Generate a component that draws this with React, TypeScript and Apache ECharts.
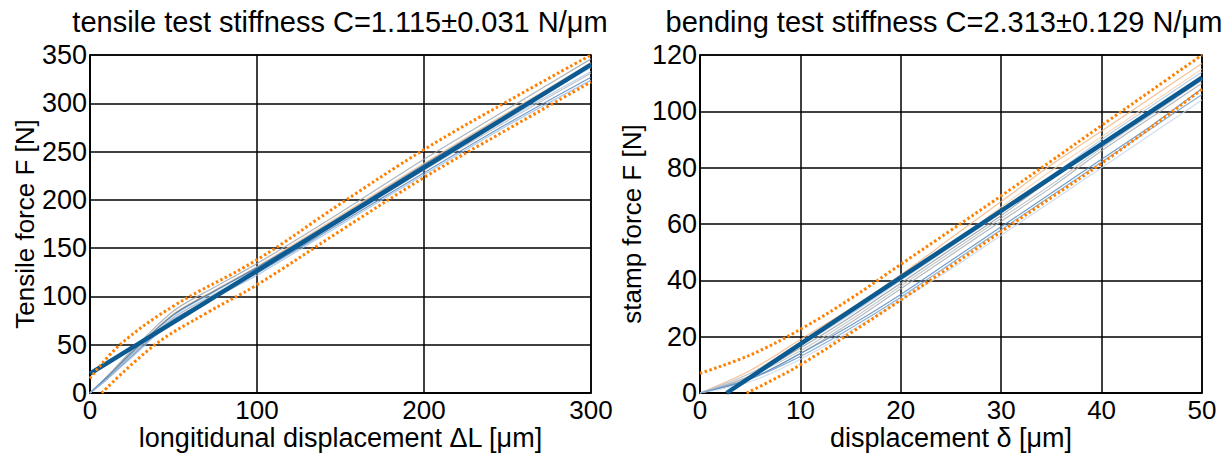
import React, { useEffect, useRef } from "react";
import * as echarts from "echarts";

// ---------- Tensile test (left) ----------
const tensileX = [0, 10, 25, 50, 75, 100, 150, 200, 250, 300];
const tensileCurves: number[][] = [
  [0, 16, 42, 81, 106, 130, 183, 237, 290, 340],
  [0, 15, 40, 78, 103, 127, 179, 232, 284, 333],
  [0, 17, 44, 85, 110, 134, 187, 242, 294, 346],
  [0, 16, 42, 82, 107, 131, 184, 238, 290, 342],
  [0, 14, 38, 76, 100, 124, 176, 228, 279, 327],
  [0, 16, 41, 80, 105, 129, 181, 235, 287, 337],
  [0, 15, 40, 78, 102, 126, 178, 231, 282, 331],
  [0, 16, 42, 81, 106, 130, 182, 236, 288, 339],
  [0, 14, 37, 75, 99, 122, 174, 226, 277, 324],
];
const tensileCurveColors = ["#8a96a3", "#a9c6e4", "#9aa3ab", "#f3c39a", "#4f86bb", "#bcd3ea", "#b0b8bf", "#3f79b0", "#9dbbe0"];
const tensileMeanX = [0, 300];
const tensileMeanY = [20, 340];
const tensileUpperX = [0, 18, 50, 100, 150, 200, 250, 300];
const tensileUpperY = [15, 50, 90, 138, 196, 252, 302, 350];
const tensileLowerX = [7, 39, 70, 100, 150, 200, 250, 300];
const tensileLowerY = [0, 50, 83, 112, 168, 223, 273, 322];

// ---------- Bending test (right) ----------
const bendX = [0, 5, 10, 15, 20, 25, 30, 35, 40, 45, 50];
const bendCurves: number[][] = [
  [0, 8, 19, 30, 42, 55, 68, 81, 93, 105, 117],
  [0, 7, 18, 29, 41, 53, 66, 79, 91, 103, 115],
  [0, 6, 16, 27, 39, 51, 63, 76, 88, 100, 112],
  [0, 5, 14, 25, 37, 49, 61, 73, 86, 98, 110],
  [0, 5, 14, 24, 35, 47, 59, 71, 83, 95, 108],
  [0, 4, 12, 22, 33, 44, 56, 68, 80, 92, 104],
  [0, 6, 15, 26, 38, 50, 62, 74, 87, 99, 111],
  [0, 7, 17, 28, 40, 52, 64, 77, 90, 102, 114],
  [0, 5, 13, 23, 34, 46, 58, 70, 82, 94, 106],
];
const bendCurveColors = ["#f2b27a", "#f7cfa8", "#8f969d", "#a3a9ae", "#4f86bb", "#c3d6ec", "#b7bdc2", "#a9c6e4", "#6f9ccb"];
const bendMeanX = [2.65, 50];
const bendMeanY = [0, 112];
const bendUpperX = [0, 5, 10, 15, 20, 25, 30, 35, 40, 45, 50];
const bendUpperY = [7, 13.5, 22.6, 33.5, 45.7, 57.8, 70, 82.4, 95, 107.5, 120];
const bendLowerX = [4.65, 7, 10, 15, 20, 25, 30, 35, 40, 45, 50];
const bendLowerY = [0, 4.2, 10, 21.3, 33, 45, 57.3, 69.4, 81.5, 94.5, 107.8];

const tensileXTicks = { min: 0, max: 300, interval: 100 };
const tensileYTicks = { min: 0, max: 350, interval: 50 };
const bendXTicks = { min: 0, max: 50, interval: 10 };
const bendYTicks = { min: 0, max: 120, interval: 20 };

const FONT = "'Liberation Sans', Arial, sans-serif";

const pairs = (xs: number[], ys: number[]) => xs.map((x, i) => [x, ys[i]]);

export default function App() {
  const ref = useRef<HTMLDivElement>(null);
  useEffect(() => {
    if (!ref.current) return;
    const chart = echarts.init(ref.current, undefined, { renderer: "svg" });

    const axisCommon = {
      type: "value" as const,
      axisLine: { show: true, lineStyle: { color: "#000", width: 1.5 } },
      axisTick: { show: false },
      splitLine: { show: true, lineStyle: { color: "#000", width: 1.5 } },
      nameLocation: "middle" as const,
      nameMoveOverlap: false,
    };
    const xLabel = { color: "#000", fontSize: 26, fontFamily: FONT, margin: 4 };
    const yLabel = { color: "#000", fontSize: 27, fontFamily: FONT, margin: 3 };
    const xName = { color: "#000", fontSize: 27, fontFamily: FONT };
    const yName = { color: "#000", fontSize: 26, fontFamily: FONT };

    const series: any[] = [];
    tensileCurves.forEach((c, i) => {
      series.push({
        type: "line", xAxisIndex: 0, yAxisIndex: 0, showSymbol: false, silent: true,
        data: pairs(tensileX, c), smooth: 0.3,
        lineStyle: { color: tensileCurveColors[i], width: 1.2, opacity: 0.8 },
      });
    });
    series.push({
      type: "line", xAxisIndex: 0, yAxisIndex: 0, showSymbol: false,
      data: pairs(tensileMeanX, tensileMeanY),
      lineStyle: { color: "#0b5a92", width: 4.5 },
    });
    series.push({
      type: "line", xAxisIndex: 0, yAxisIndex: 0, showSymbol: false, smooth: 0.4,
      data: pairs(tensileUpperX, tensileUpperY),
      lineStyle: { color: "#ff8000", width: 3, type: [2.5, 2.5] },
    });
    series.push({
      type: "line", xAxisIndex: 0, yAxisIndex: 0, showSymbol: false, smooth: 0.4,
      data: pairs(tensileLowerX, tensileLowerY),
      lineStyle: { color: "#ff8000", width: 3, type: [2.5, 2.5] },
    });

    bendCurves.forEach((c, i) => {
      series.push({
        type: "line", xAxisIndex: 1, yAxisIndex: 1, showSymbol: false, silent: true,
        data: pairs(bendX, c), smooth: 0.3,
        lineStyle: { color: bendCurveColors[i], width: 1.2, opacity: 0.8 },
      });
    });
    series.push({
      type: "line", xAxisIndex: 1, yAxisIndex: 1, showSymbol: false,
      data: pairs(bendMeanX, bendMeanY),
      lineStyle: { color: "#0b5a92", width: 4.5 },
    });
    series.push({
      type: "line", xAxisIndex: 1, yAxisIndex: 1, showSymbol: false, smooth: 0.4,
      data: pairs(bendUpperX, bendUpperY),
      lineStyle: { color: "#ff8000", width: 3, type: [2.5, 2.5] },
    });
    series.push({
      type: "line", xAxisIndex: 1, yAxisIndex: 1, showSymbol: false, smooth: 0.4,
      data: pairs(bendLowerX, bendLowerY),
      lineStyle: { color: "#ff8000", width: 3, type: [2.5, 2.5] },
    });

    chart.setOption({
      animation: false,
      backgroundColor: "#fff",
      grid: [
        { left: 90, right: 636, top: 55, bottom: 62, show: true, borderColor: "#000", borderWidth: 1.5, outerBoundsMode: "none", containLabel: false },
        { left: 700, right: 25, top: 55, bottom: 62, show: true, borderColor: "#000", borderWidth: 1.5, outerBoundsMode: "none", containLabel: false },
      ],
      xAxis: [
        { ...axisCommon, gridIndex: 0, ...tensileXTicks, axisLabel: xLabel, nameTextStyle: xName, name: "longitidunal displacement ΔL [μm]", nameGap: 31 },
        { ...axisCommon, gridIndex: 1, ...bendXTicks, axisLabel: xLabel, nameTextStyle: xName, name: "displacement δ [μm]", nameGap: 31 },
      ],
      yAxis: [
        { ...axisCommon, gridIndex: 0, ...tensileYTicks, axisLabel: yLabel, nameTextStyle: yName, name: "Tensile force F [N]", nameGap: 52 },
        { ...axisCommon, gridIndex: 1, ...bendYTicks, axisLabel: yLabel, nameTextStyle: yName, name: "stamp force F [N]", nameGap: 55 },
      ],
      graphic: [
        { type: "text", x: 340, y: 22, style: { text: "tensile test stiffness C=1.115±0.031 N/μm", font: `29px ${FONT}`, fill: "#000", textAlign: "center", textVerticalAlign: "middle" } },
        { type: "text", x: 944, y: 22, style: { text: "bending test stiffness C=2.313±0.129 N/μm", font: `29px ${FONT}`, fill: "#000", textAlign: "center", textVerticalAlign: "middle" } },
      ],
      series,
    });
    return () => chart.dispose();
  }, []);
  return <div ref={ref} style={{ position: "fixed", left: 0, top: 0, width: 1227, height: 455 }} />;
}
